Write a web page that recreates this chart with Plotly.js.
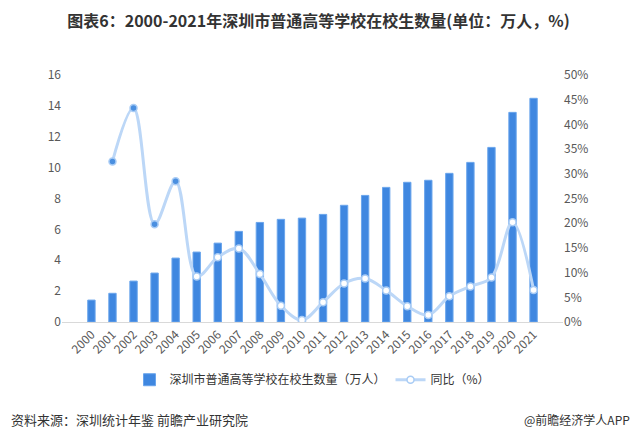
<!DOCTYPE html>
<html>
<head>
<meta charset="utf-8">
<script src="https://cdn.plot.ly/plotly-3.0.1.min.js"></script>
<style>
html,body{margin:0;padding:0;background:#fff;}
#chart{width:637px;height:442px;}
</style>
</head>
<body>
<div id="chart"></div>
<script>
const years = ['2000','2001','2002','2003','2004','2005','2006','2007','2008','2009','2010','2011','2012','2013','2014','2015','2016','2017','2018','2019','2020','2021'];
const students = [1.42,1.86,2.65,3.17,4.14,4.53,5.11,5.87,6.45,6.65,6.73,6.97,7.56,8.2,8.72,9.05,9.18,9.63,10.34,11.31,13.58,14.49];
const growth = [null,32.5,43.3,19.8,28.5,9.2,13.1,14.9,9.7,3.3,0.4,4.0,7.8,8.8,6.4,3.2,1.4,5.2,7.2,9.0,20.2,6.5];
const barName = '深圳市普通高等学校在校生数量（万人）';
const lineName = '同比（%）';
const titleText = '图表6：2000-2021年深圳市普通高等学校在校生数量(单位：万人，%)';
const sourceText = '资料来源：深圳统计年鉴 前瞻产业研究院';
const brandText = '@前瞻经济学人APP';

const font = '"Noto Sans CJK SC", "Noto Sans", sans-serif';
const markerFill = growth.map((v,i)=> (i>=1 && i<=4) ? '#4a8fe0' : '#ffffff');

const traces = [
  {type:'bar', x:years, y:students, name:barName,
   marker:{color:'#3f87e0', line:{color:'#6aa5ec', width:1}}, yaxis:'y'},
  {type:'scatter', mode:'lines+markers', x:years, y:growth, name:lineName, yaxis:'y2',
   line:{color:'#bcd7f7', width:3, shape:'spline', smoothing:1},
   marker:{size:7, color:markerFill, line:{color:'#a9ccf5', width:1.5}},
   connectgaps:false}
];

const layout = {
  width:637, height:442,
  margin:{l:62, r:74, t:75, b:120},
  paper_bgcolor:'#fff', plot_bgcolor:'#fff',
  font:{family:font, color:'#595959', size:12},
  showlegend:true,
  legend:{orientation:'h', x:0.5, xanchor:'center', y:-0.175, yanchor:'top', font:{size:12, color:'#333'}, itemwidth:30, traceorder:'normal'},
  bargap:0.65,
  title:{text:'<b>'+titleText+'</b>', x:0.5, xanchor:'center', y:0.952, yanchor:'middle', font:{size:16, color:'#333', family:font}},
  xaxis:{type:'category', tickangle:-45, showgrid:false, showline:true, linecolor:'#d9d9d9', linewidth:1, ticks:'', tickfont:{size:12, color:'#595959'}, automargin:false},
  yaxis:{range:[0,16], dtick:2, showgrid:false, zeroline:false, showline:false, ticks:'', tickfont:{size:12, color:'#595959'}, automargin:false},
  yaxis2:{range:[0,50], dtick:5, overlaying:'y', side:'right', ticksuffix:'%', showgrid:false, zeroline:false, showline:false, ticks:'', tickfont:{size:12, color:'#595959'}, automargin:false},
  annotations:[
    {text:sourceText, xref:'paper', yref:'paper', x:-0.105, xanchor:'left', y:-0.395, yanchor:'middle', showarrow:false, font:{size:13, color:'#333'}},
    {text:brandText, xref:'paper', yref:'paper', x:1.138, xanchor:'right', y:-0.395, yanchor:'middle', showarrow:false, font:{size:12, color:'#333'}}
  ]
};

Plotly.newPlot('chart', traces, layout, {displayModeBar:false, staticPlot:true});
</script>
</body>
</html>
